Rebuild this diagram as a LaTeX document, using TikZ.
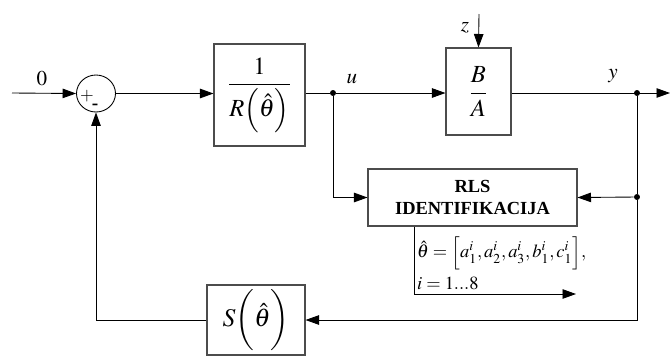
\documentclass[tikz,border=0pt]{standalone}
\usepackage{amsmath}
\usepackage{mathptmx}
\usepackage{fontspec}
\setmainfont{Liberation Serif}
\usetikzlibrary{arrows.meta,positioning,shapes.geometric,calc}

\begin{document}
\begin{tikzpicture}[
    x=0.02cm, y=-0.02cm,
    every node/.style={font=\fontsize{12}{14}\selectfont},
    block/.style={draw=black!70, line width=0.6pt, inner sep=0pt},
    sumnode/.style={draw, ellipse, line width=0.5pt, minimum width=0.78cm, minimum height=0.74cm, inner sep=0pt},
    dot/.style={circle, fill, inner sep=0pt, minimum size=3.4pt},
    sig/.style={line width=0.5pt, -{Triangle[length=2.7mm,width=1.9mm]}},
    wire/.style={line width=0.5pt},
  ]
  \useasboundingbox (0,0) rectangle (670,356);
  % blocks of the loop, pixel grid of the drawing
  \node[sumnode] (sum) at (96,93.5) {};
  \node[block, minimum width=1.82cm, minimum height=2.04cm] (ctrl) at (259.5,95)
    {\fontsize{14}{16}\selectfont $\dfrac{1}{R\Bigl(\hat{\theta}\Bigr)}$};
  \node[block, minimum width=1.30cm, minimum height=1.74cm] (plant) at (478.5,91.5)
    {\fontsize{14}{16}\selectfont $\dfrac{B}{A}$};
  \node[block, minimum width=4.18cm, minimum height=1.14cm, align=center,
        font=\fontsize{10.5}{12.5}\selectfont\bfseries] (rls) at (472.5,197.5)
    {RLS\\IDENTIFIKACIJA};
  \node[block, minimum width=1.96cm, minimum height=1.40cm] (sblk) at (256,320)
    {\fontsize{14.5}{17}\selectfont $S\biggl(\hat{\theta}\biggr)$};

  \coordinate (in) at (12,93);
  \coordinate (zin) at (479,14);
  \coordinate (out) at (670,93);
  \node[dot] (ju) at (333,93) {};
  \node[dot] (jy) at (637,93) {};
  \node[dot] (jr) at (637,197) {};
  \coordinate (pout) at (414,294);
  \coordinate (pend) at (576,294);

  % signal paths
  \draw[sig] (in) -- (sum.west);
  \draw[sig] (sum.east) -- (sum.east -| ctrl.west);
  \draw[wire] (ctrl.east |- ju) -- (ju);
  \draw[sig] (ju) -- (ju -| plant.west);
  \draw[sig] (zin) -- (plant.north);
  \draw[sig] (plant.east |- jy) -- (out);
  \draw[sig] (ju) |- (rls.west);
  \draw[wire] (jy) -- (jr);
  \draw[sig] (jr) -- (rls.east);
  \draw[sig] (jr) |- (sblk.east);
  \draw[sig] (sblk.west) -| (sum.south);
  \draw[sig] (rls.south -| pout) -- (pout) -- (pend);

  \node (l0) at (42,79) {$0$};
  \node (lu) at (352,79) {$u$};
  \node (ly) at (613,76) {$y$};
  \node (lz) at (465,28) {$z$};
  \node[font=\fontsize{10}{12}\selectfont, inner sep=0pt] (lplus) at (87,96) {$+$};
  \node[font=\fontsize{11}{12}\selectfont\bfseries, inner sep=0pt] (lminus) at (95,107) {-};
  \node[anchor=west, font=\fontsize{10.5}{13}\selectfont, inner sep=1pt] (lth) at (415,253)
    {$\hat{\theta}=\Bigl[a_1^i,a_2^i,a_3^i,b_1^i,c_1^i\Bigr],$};
  \node[anchor=west, font=\fontsize{10.5}{13}\selectfont, inner sep=1pt] (li) at (415,283)
    {$i=1...8$};
\end{tikzpicture}
\end{document}
